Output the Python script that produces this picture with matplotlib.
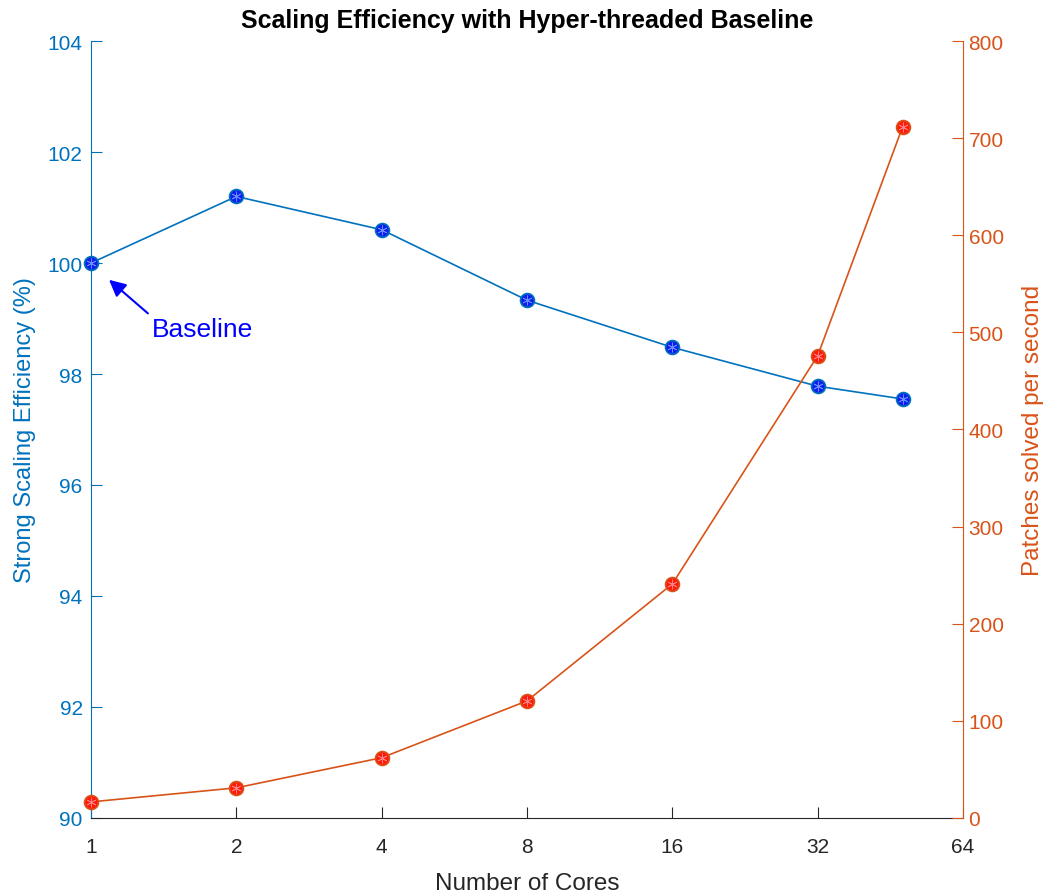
import matplotlib
matplotlib.use("Agg")
import matplotlib.pyplot as plt
from matplotlib.ticker import FixedLocator, FixedFormatter, NullLocator

plt.rcParams['font.family'] = ['Liberation Sans', 'DejaVu Sans']

cores = [1, 2, 4, 8, 16, 32, 48]
efficiency = [100.0, 101.2, 100.6, 99.33, 98.48, 97.78, 97.55]
patches = [16.5, 31, 62, 120.5, 241, 476, 712]
xticks = [1, 2, 4, 8, 16, 32, 64]

blue = '#0072BD'
orange = '#D95319'

fig = plt.figure(figsize=(10.46, 8.95), dpi=100)
ax = fig.add_axes([0.087, 0.085, 0.8337, 0.868])
ax2 = ax.twinx()

ax.plot(cores, efficiency, color=blue, lw=1.2, marker='o', ms=10,
        mfc='#0a1ff0', mec=blue, mew=1.2, zorder=3, clip_on=False)
ax.plot(cores, efficiency, ls='none', marker=(6, 2, 0), ms=7, mec='#6a8cff', mew=0.6, zorder=4, clip_on=False)
ax2.plot(cores, patches, color=orange, lw=1.2, marker='o', ms=10,
         mfc='#ff1a0a', mec=orange, mew=1.2, zorder=3, clip_on=False)
ax2.plot(cores, patches, ls='none', marker=(6, 2, 0), ms=7, mec='#ff8080', mew=0.6, zorder=4, clip_on=False)

ax.set_xscale('log', base=2)
ax.set_xlim(1, 64)
ax.xaxis.set_major_locator(FixedLocator(xticks))
ax.xaxis.set_major_formatter(FixedFormatter([str(t) for t in xticks]))
ax.xaxis.set_minor_locator(NullLocator())
ax.set_ylim(90, 104)
ax.set_yticks(range(90, 105, 2))
ax2.set_ylim(0, 800)
ax2.set_yticks(range(0, 801, 100))

ax.spines['top'].set_visible(False)
ax2.spines['top'].set_visible(False)
ax.spines['right'].set_visible(False)
ax2.spines['left'].set_visible(False)
ax2.spines['bottom'].set_visible(False)
ax.spines['left'].set_color(blue)
ax2.spines['right'].set_color(orange)
ax.spines['bottom'].set_color('#262626')

ax.tick_params(axis='x', direction='in', length=8, colors='#262626', labelsize=15, pad=14)
ax.tick_params(axis='y', direction='in', length=8, colors=blue, labelsize=15, pad=6)
ax2.tick_params(axis='y', direction='in', length=8, colors=orange, labelsize=15, pad=4)

ax.set_xlabel('Number of Cores', fontsize=17.5, color='#262626', labelpad=11)
ax.set_ylabel('Strong Scaling Efficiency (%)', fontsize=17, color=blue, labelpad=8)
ax2.set_ylabel('Patches solved per second', fontsize=17.5, color=orange, labelpad=13)
ax.set_title('Scaling Efficiency with Hyper-threaded Baseline', fontsize=18, fontweight='bold', pad=10)

ax.annotate('', xy=(1.079, 99.73), xytext=(1.325, 99.06),
            arrowprops=dict(arrowstyle='-|>', color='blue', lw=1.5, mutation_scale=25))
ax.text(1.338, 98.81, 'Baseline', color='blue', fontsize=19, va='center', ha='left')

fig.savefig('out.png', dpi=100)
